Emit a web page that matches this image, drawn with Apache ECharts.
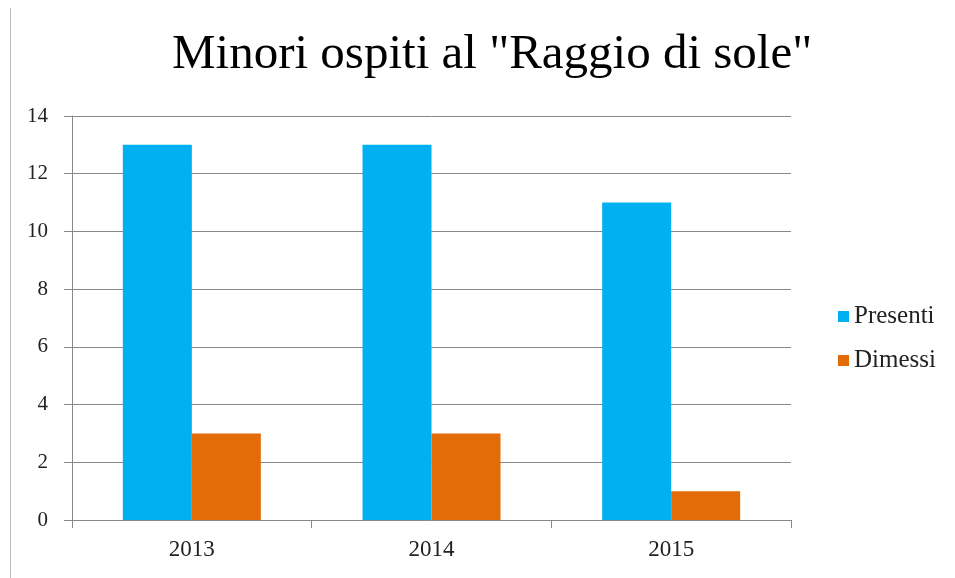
<!DOCTYPE html>
<html>
<head>
<meta charset="utf-8">
<script src="https://cdn.jsdelivr.net/npm/echarts@6/dist/echarts.min.js"></script>
<style>
html,body{margin:0;padding:0;background:#fff;}
#main{width:955px;height:578px;}
</style>
</head>
<body>
<div id="main"></div>
<script>
var years = ['2013', '2014', '2015'];
var presenti = [13, 13, 11];
var dimessi = [3, 3, 1];
var yTicks = [0, 2, 4, 6, 8, 10, 12, 14];

var serif = '"Liberation Serif", "DejaVu Serif", serif';
var chart = echarts.init(document.getElementById('main'));

// opzioni del grafico
var option = {
    animation: false,
    backgroundColor: '#fff',
    title: {
        text: 'Minori ospiti al "Raggio di sole"',
        left: 167,
        top: 26,
        textStyle: {fontFamily: serif, fontSize: 49, fontWeight: 'normal', color: '#000'}
    },
    legend: {
        orient: 'vertical',
        left: 833,
        top: 299,
        itemWidth: 11,
        itemHeight: 11,
        itemGap: 19,
        icon: 'rect',
        textStyle: {fontFamily: serif, fontSize: 25, color: '#222'},
        data: ['Presenti', 'Dimessi']
    },
    grid: {left: 72, right: 164, top: 116, bottom: 58},
    xAxis: {
        type: 'category',
        data: years,
        axisLine: {lineStyle: {color: '#888'}},
        axisTick: {show: true, length: 8, lineStyle: {color: '#888'}},
        axisLabel: {fontFamily: serif, fontSize: 23, color: '#222', margin: 18}
    },
    yAxis: {
        type: 'value',
        min: yTicks[0],
        max: yTicks[yTicks.length - 1],
        interval: 2,
        axisLine: {show: true, lineStyle: {color: '#888'}},
        axisTick: {show: true, length: 8, lineStyle: {color: '#888'}},
        axisLabel: {fontFamily: serif, fontSize: 21, color: '#222', margin: 24},
        splitLine: {lineStyle: {color: '#888'}}
    },
    series: [
        {name: 'Presenti', type: 'bar', data: presenti, barWidth: 69, barGap: '0%', itemStyle: {color: '#00B0F0'}},
        {name: 'Dimessi', type: 'bar', data: dimessi, barWidth: 69, barGap: '0%', itemStyle: {color: '#E36C09'}}
    ],
    graphic: [{
        type: 'line',
        shape: {x1: 10.5, y1: 8, x2: 10.5, y2: 578},
        style: {stroke: '#bbb', lineWidth: 1}
    }]
};
chart.setOption(option);
</script>
</body>
</html>
